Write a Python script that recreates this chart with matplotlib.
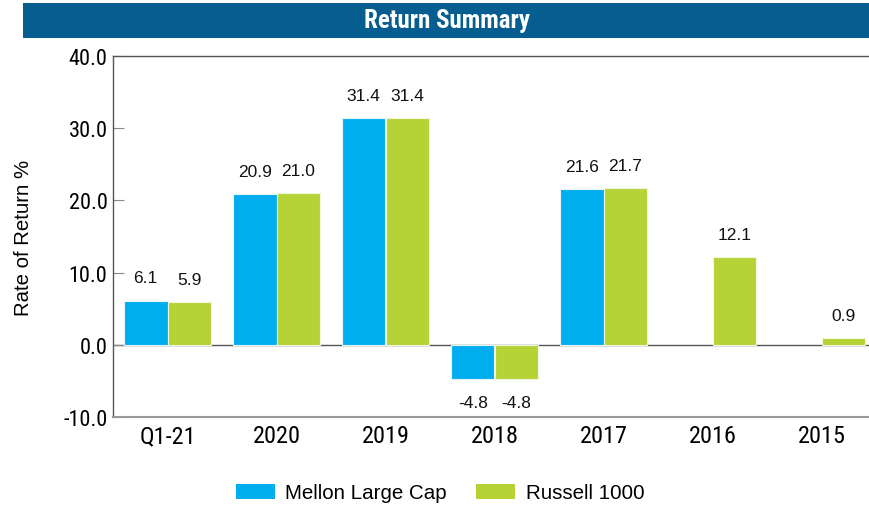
import numpy as np
import matplotlib
matplotlib.use("Agg")
import matplotlib.pyplot as plt
from matplotlib import font_manager as fm
from matplotlib.patches import Rectangle

categories = ["Q1-21", "2020", "2019", "2018", "2017", "2016", "2015"]
mellon = [6.1, 20.9, 31.4, -4.8, 21.6, None, None]
russell = [5.9, 21.0, 31.4, -4.8, 21.7, 12.1, 0.9]
series_names = ["Mellon Large Cap", "Russell 1000"]
yticks = [-10.0, 0.0, 10.0, 20.0, 30.0, 40.0]

names = {f.name for f in fm.fontManager.ttflist}
NARROW = next((n for n in ["Roboto Condensed", "Archivo Narrow", "Liberation Sans"] if n in names), "DejaVu Sans")
REG = "Liberation Sans" if "Liberation Sans" in names else "DejaVu Sans"

BLUE = "#00AEEF"
GREEN = "#B5D335"
BANNER = "#055E8F"

fig = plt.figure(figsize=(8.69, 5.06), dpi=100)
# banner
fig.patches.append(Rectangle((23/869, 1-39/506), 1-23/869, 35/506, transform=fig.transFigure,
                             facecolor=BANNER, edgecolor="none", zorder=0))
fig.text(447/869, 1-21/506, "Return Summary", color="white", fontsize=18, fontweight="bold",
         family=NARROW, ha="center", va="center")

ax = fig.add_axes([113/869, 1-418/506, (876-113)/869, (418-57)/506])
x = np.arange(len(categories))
w = 0.4
ax.axhline(0, color="#555555", lw=1.0, zorder=1)
mx = [xi for xi, v in zip(x, mellon) if v is not None]
mv = [v for v in mellon if v is not None]
b1 = ax.bar(np.array(mx) - w/2, mv, w, color=BLUE, edgecolor="#e8f6fc", linewidth=0.8, zorder=2,
            label=series_names[0])
b2 = ax.bar(x + w/2, russell, w, color=GREEN, edgecolor="#f0f6df", linewidth=0.8, zorder=2,
            label=series_names[1])

for xs, vals in ((np.array(mx) - w/2, mv), (x + w/2, russell)):
    for xi, v in zip(xs, vals):
        off = 11 if v >= 0 else -11
        ax.annotate(f"{v:.1f}", (xi, v), xytext=(0, off), textcoords="offset points",
                    ha="center", va="bottom" if v >= 0 else "top", fontsize=12.5,
                    family=REG, color="#111111")

ax.set_xlim(-0.5, len(categories) - 0.5)
ax.set_ylim(-10, 40)
ax.set_yticks(yticks)
ax.set_yticklabels([f"{t:.1f}" for t in yticks], family=NARROW, fontsize=16)
ax.set_xticks(x)
ax.set_xticklabels(categories, family=NARROW, fontsize=17.5)
ax.tick_params(axis="y", direction="in", length=8, color="#888888", pad=4)
ax.tick_params(axis="x", length=0, pad=5)
for s in ["left", "top"]:
    ax.spines[s].set_color("#555555")
    ax.spines[s].set_linewidth(1.0)
ax.spines["bottom"].set_color("#999999")
ax.spines["bottom"].set_linewidth(1.5)
ax.spines["right"].set_visible(False)
ax.set_ylabel("Rate of Return %", family=REG, fontsize=14.7)
ax.yaxis.set_label_coords(-(113-33)/(876-113), 0.5)

leg = fig.legend(handles=[b1, b2], labels=series_names, loc="center", bbox_to_anchor=(440/869, 1-494/506),
                 ncol=2, frameon=False, prop={"family": REG, "size": 14.8}, handlelength=1.9,
                 handleheight=0.78, handletextpad=0.5, columnspacing=1.45)
for h in leg.legend_handles:
    h.set_edgecolor("none")

fig.savefig("out.png", dpi=100)
